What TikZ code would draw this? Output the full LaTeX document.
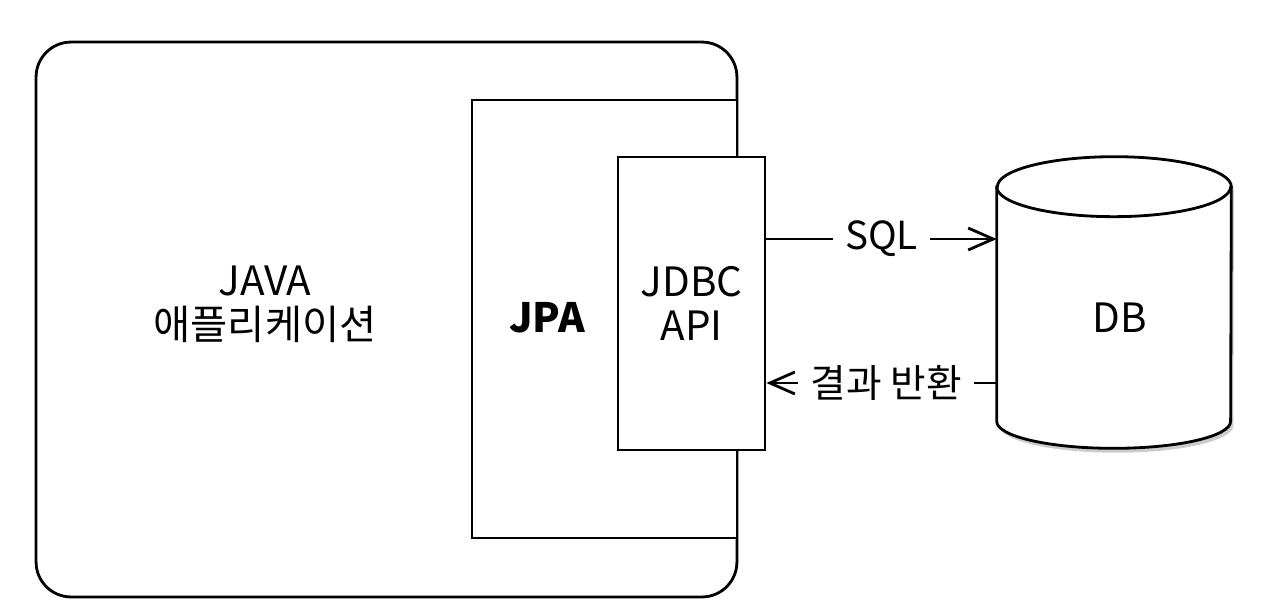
\documentclass[tikz,border=0pt]{standalone}
\usepackage{fontspec}
\setmainfont{Noto Sans CJK KR}
\usetikzlibrary{positioning,arrows.meta,shadows}
\tikzset{
  blk/.style={draw, line width=1.6pt, fill=white, inner sep=0pt},
  lbl/.style={font=\fontsize{23}{25}\selectfont, align=center, inner sep=0pt},
  cyl/.style={draw, line width=1.6pt, fill=white, drop shadow={shadow xshift=1.5pt, shadow yshift=-2.5pt, opacity=0.4}},
  flow/.style={-{Straight Barb[length=5mm,width=4.4mm]}, line width=1.6pt},
  fl/.style={font=\fontsize{22}{25}\selectfont, fill=white, inner xsep=2.5mm, inner ysep=1pt},
}
\begin{document}
\begin{tikzpicture}[x=0.02cm, y=-0.02cm]
\useasboundingbox (0,0) rectangle (1270,613);
\node[blk, rounded corners=0.7cm, minimum width=14.02cm, minimum height=11.1cm] (app) at (386.5,319.5) {};
\node[lbl] (applbl) at (265,304) {JAVA\\애플리케이션};
\node[blk, minimum width=5.3cm, minimum height=8.76cm] (jpa) at (604.5,319) {};
\node[lbl, font=\fontsize{23}{25}\selectfont\bfseries] (jpalbl) at (547,318) {JPA};
\node[blk, minimum width=2.94cm, minimum height=5.86cm, font=\fontsize{23}{25}\selectfont, align=center] (jdbc) at (691.5,303.5) {JDBC\\API};
% DB cylinder
\node[inner sep=0pt, minimum width=4.68cm, minimum height=5.82cm] (db) at (1114,302.5) {};
\coordinate (dbtl) at ([yshift=-0.6cm]db.north west);
\coordinate (dbtr) at ([yshift=-0.6cm]db.north east);
\coordinate (dbbl) at ([yshift=0.54cm]db.south west);
\draw[cyl] (dbtl) -- (dbbl) arc[start angle=180, end angle=360, x radius=2.34cm, y radius=0.54cm] -- (dbtr) arc[start angle=0, end angle=180, x radius=2.34cm, y radius=0.6cm] -- cycle;
\draw[line width=1.6pt] (dbtl) arc[start angle=180, end angle=360, x radius=2.34cm, y radius=0.6cm];
\node[lbl] (dblbl) at (1120,318) {DB};
\coordinate (sqlL) at ([yshift=1.29cm]jdbc.east);
\coordinate (retL) at ([yshift=-1.59cm]jdbc.east);
\draw[flow] (sqlL) -- node[fl,pos=0.5]{SQL} (sqlL -| db.west);
\draw[flow] (retL -| db.west) -- node[fl,pos=0.48]{결과 반환} (retL);
\end{tikzpicture}
\end{document}
